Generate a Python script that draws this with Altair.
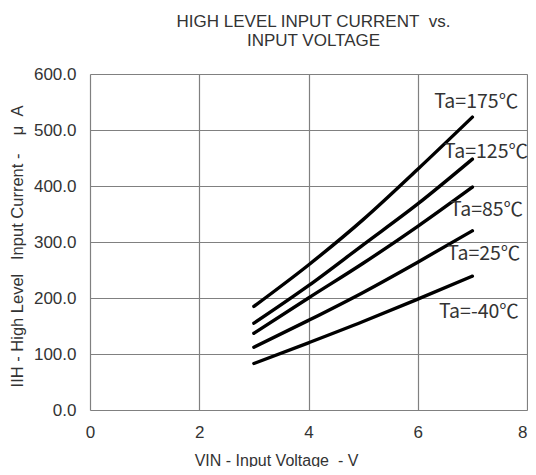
import altair as alt
import pandas as pd

# Data
vin = [3, 4, 5, 6, 7]
ta_175 = [185, 259, 340, 430, 523]
ta_125 = [155, 222, 295, 368, 448]
ta_85 = [137, 200, 262, 328, 398]
ta_25 = [112, 160, 210, 264, 320]
ta_m40 = [83, 120, 158, 198, 239]

series_names = ["Ta=175℃", "Ta=125℃", "Ta=85℃", "Ta=25℃", "Ta=-40℃"]
series_values = [ta_175, ta_125, ta_85, ta_25, ta_m40]

label_x = [7.07, 7.25, 7.26, 7.21, 7.12]
label_y = [550, 461, 357, 279, 175]

x_ticks = [0, 2, 4, 6, 8]
y_ticks = [0, 100, 200, 300, 400, 500, 600]

rows = []
for name, vals in zip(series_names, series_values):
    for v, i in zip(vin, vals):
        rows.append({"series": name, "vin": v, "iih": i})
df = pd.DataFrame(rows)
lab = pd.DataFrame({"series": series_names, "x": label_x, "y": label_y})

W, H = 437, 336

xscale = alt.Scale(domain=[0, 8], nice=False, zero=False)
yscale = alt.Scale(domain=[0, 600], nice=False)

NB = "\u00a0"

lines = alt.Chart(df).mark_line(color="black", strokeWidth=3.4, strokeCap="round",
                                interpolate="monotone").encode(
    x=alt.X("vin:Q", scale=xscale,
            axis=alt.Axis(values=x_ticks, format="d", title="VIN - Input Voltage" + NB + " - V",
                          grid=True, gridColor="#808080", gridWidth=1.2,
                          domain=False, ticks=False, labelPadding=14, labelFlush=False,
                          labelAlign={"condition": {"test": "datum.value >= 8", "value": "right"},
                                      "value": "center"},
                          labelFont="Liberation Sans", labelFontSize=17, labelColor="#333333",
                          titleFont="Liberation Sans", titleFontSize=16, titleFontWeight="normal",
                          titleColor="#333333", titleX=186, titleY=50, titleBaseline="middle",
                          titleAlign="center")),
    y=alt.Y("iih:Q", scale=yscale,
            axis=alt.Axis(values=y_ticks, format=".1f",
                          title="IIH - High Level" + NB + NB + " Input Current -" + NB + NB + NB + " μ" + NB + NB + "A",
                          grid=True, gridColor="#808080", gridWidth=1.2,
                          domain=False, ticks=False, labelPadding=14,
                          labelFont="Liberation Sans", labelFontSize=17, labelColor="#333333",
                          titleFont="Liberation Sans", titleFontSize=16.5, titleFontWeight="normal",
                          titleColor="#333333", titleX=-73, titleY=172, titleAngle=-90,
                          titleBaseline="middle", titleAlign="center")),
    detail="series:N",
)

labels = alt.Chart(lab).mark_text(font="Noto Sans CJK JP", fontSize=19.5, color="#333333",
                                  align="center", baseline="middle").encode(
    x=alt.X("x:Q", scale=xscale),
    y=alt.Y("y:Q", scale=yscale),
    text="series:N",
)

chart = alt.layer(lines, labels).properties(
    width=W, height=H,
    autosize=alt.AutoSizeParams(type="none"),
    padding={"left": 82, "top": 66, "right": 1, "bottom": 57},
    title=alt.TitleParams(["HIGH LEVEL INPUT CURRENT" + NB + " vs.", "INPUT VOLTAGE"],
                          font="Liberation Sans",
                          fontSize=17, fontWeight="normal", color="#333333", anchor="middle",
                          dx=5, offset=15, lineHeight=19),
).configure_view(stroke="black", strokeWidth=3.6).configure(background="white")

chart.save("out.html", embed_options={"renderer": "svg", "actions": False})
